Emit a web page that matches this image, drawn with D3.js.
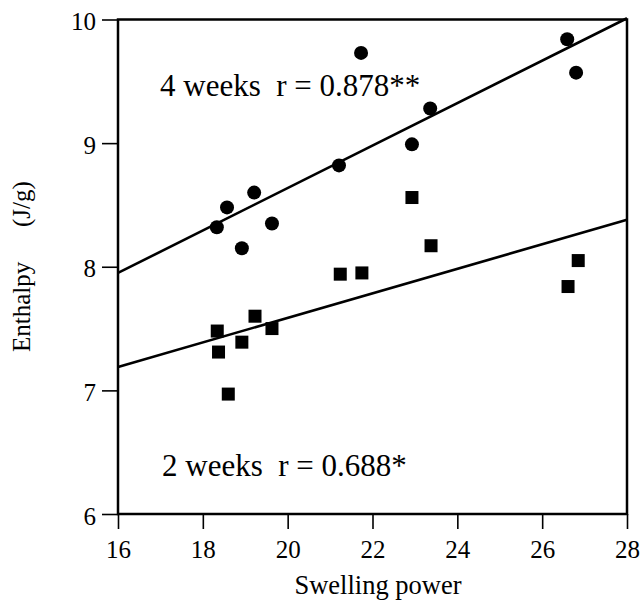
<!DOCTYPE html>
<html><head><meta charset="utf-8">
<script src="https://cdn.jsdelivr.net/npm/d3@7"></script>
<style>body{margin:0;background:#fff}svg{display:block}</style>
</head><body>
<svg id="c" width="641" height="600"></svg>
<script>
const xTicks = [16,18,20,22,24,26,28];
const yTicks = [6,7,8,9,10];
const week4X = [18.33,18.57,19.21,18.92,19.63,21.21,21.73,22.93,23.36,26.59,26.8];
const week4Y = [8.32,8.48,8.60,8.15,8.35,8.82,9.73,8.99,9.28,9.84,9.57];
const week2X = [18.34,18.37,18.6,18.92,19.23,19.63,21.24,21.75,22.93,23.38,26.61,26.85];
const week2Y = [7.48,7.31,6.97,7.39,7.60,7.50,7.94,7.95,8.56,8.17,7.84,8.05];
const fit4 = [[16,7.95],[28,10.01]];
const fit2 = [[16,7.19],[28,8.38]];
const label4 = "4 weeks  r = 0.878**";
const label2 = "2 weeks  r = 0.688*";

const svg = d3.select("#c");
const font = "'Liberation Serif','Times New Roman',serif";
const x = d3.scaleLinear().domain([16,28]).range([118,627]);
const y = d3.scaleLinear().domain([6,10]).range([514,19.5]);

// frame
svg.append("rect").attr("x",x(16)).attr("y",y(10)).attr("width",x(28)-x(16)).attr("height",y(6)-y(10))
  .attr("fill","none").attr("stroke","#000").attr("stroke-width",2.5);

const xa = svg.append("g").attr("transform",`translate(0,${y(6)})`)
  .call(d3.axisBottom(x).tickValues(xTicks).tickSize(15).tickPadding(11).tickFormat(d3.format("d")));
const ya = svg.append("g").attr("transform",`translate(${x(16)},0)`)
  .call(d3.axisLeft(y).tickValues(yTicks).tickSize(16).tickPadding(6).tickFormat(d3.format("d")));
[xa,ya].forEach(a=>{
  a.select(".domain").remove();
  a.selectAll(".tick line").attr("stroke","#000").attr("stroke-width",1.6);
  a.selectAll("text").attr("font-family",font).attr("font-size",25).attr("fill","#000");
});
ya.selectAll("text").attr("dy","0.4em");

const line = d3.line().x(d=>x(d[0])).y(d=>y(d[1]));
svg.append("path").attr("d",line(fit4)).attr("stroke","#000").attr("stroke-width",2.6).attr("fill","none");
svg.append("path").attr("d",line(fit2)).attr("stroke","#000").attr("stroke-width",2.6).attr("fill","none");

svg.selectAll("circle.p4").data(week4X.map((v,i)=>[v,week4Y[i]])).join("circle")
  .attr("class","p4").attr("cx",d=>x(d[0])).attr("cy",d=>y(d[1])).attr("r",7).attr("fill","#000");
const s = 13;
svg.selectAll("rect.p2").data(week2X.map((v,i)=>[v,week2Y[i]])).join("rect")
  .attr("class","p2").attr("x",d=>x(d[0])-s/2).attr("y",d=>y(d[1])-s/2).attr("width",s).attr("height",s).attr("fill","#000");

svg.append("text").attr("x",160).attr("y",96).attr("font-family",font).attr("font-size",31)
  .attr("xml:space","preserve").style("white-space","pre").text(label4);
svg.append("text").attr("x",162).attr("y",476).attr("font-family",font).attr("font-size",31)
  .attr("xml:space","preserve").style("white-space","pre").text(label2);

svg.append("text").attr("x",378).attr("y",594).attr("text-anchor","middle").attr("font-family",font).attr("font-size",26.5).text("Swelling power");
svg.append("text").attr("transform","translate(29.5,352) rotate(-90)").attr("font-family",font).attr("font-size",25).text("Enthalpy");
svg.append("text").attr("transform","translate(29.5,227) rotate(-90)").attr("font-family",font).attr("font-size",25).text("(J/g)");
</script>
</body></html>
